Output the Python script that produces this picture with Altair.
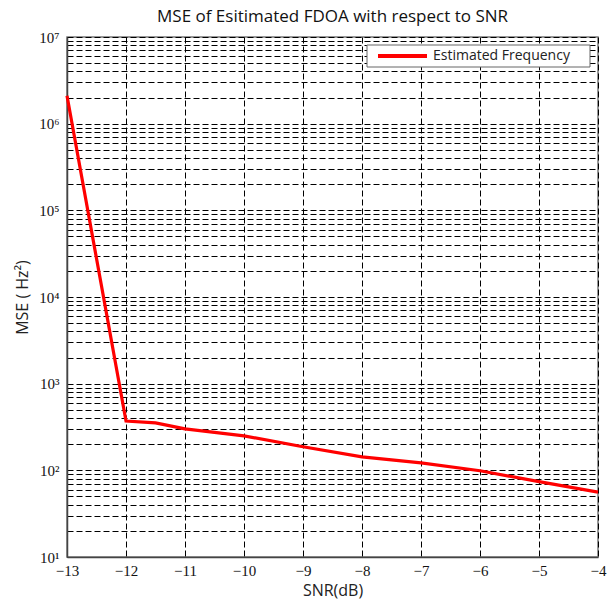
import altair as alt
import pandas as pd

snr = [-13, -12, -11.5, -11, -10, -9, -8, -7, -6, -5, -4]
mse = [2.1e6, 370, 353, 301, 250, 187, 143, 122, 99, 74, 56]
series_name = "Estimated Frequency"

df = pd.DataFrame({"SNR": snr, "MSE": mse})
legend_df = pd.DataFrame({"label": [series_name]})

y_ticks = [m * 10 ** e for e in range(1, 7) for m in range(1, 10)] + [1e7]
x_ticks = list(range(-13, -3))

sup = "{'1':'¹','2':'²','3':'³','4':'⁴','5':'⁵','6':'⁶','7':'⁷'}"
y_label_expr = (
    "abs(log(datum.value)/LN10 - round(log(datum.value)/LN10)) < 0.001 ? "
    "'10' + " + sup + "[toString(round(log(datum.value)/LN10))] : ''"
)

line = (
    alt.Chart(df)
    .mark_line(color="#ff0000", strokeWidth=3.2)
    .encode(
        x=alt.X(
            "SNR:Q",
            scale=alt.Scale(domain=[-13, -4], nice=False, zero=False),
            axis=alt.Axis(
                values=x_ticks,
                title="SNR(dB)",
                labelExpr="replace(toString(datum.value), '-', '−')",
                labelFlush=False,
                grid=True,
                gridColor="#000",
                gridDash=[6, 3],
                gridWidth=1,
                tickSize=0,
                labelFont="Liberation Serif",
                labelFontSize=15,
                labelColor="#111",
                labelPadding=6,
                titleFont="Open Sans",
                titleFontSize=16,
                titleFontWeight="normal",
                titleColor="#222",
                titlePadding=4,
                domainColor="#444",
                domainWidth=1.5,
            ),
        ),
        y=alt.Y(
            "MSE:Q",
            scale=alt.Scale(type="log", domain=[10, 1e7], nice=False),
            axis=alt.Axis(
                values=y_ticks,
                title="MSE  ( Hz²)",
                labelExpr=y_label_expr,
                labelFlush=False,
                grid=True,
                gridColor="#000",
                gridDash=[6, 3],
                gridWidth=1,
                tickSize=0,
                labelFont="Liberation Serif",
                labelFontSize=15,
                labelColor="#111",
                labelPadding=8,
                labelOverlap=False,
                titleFont="Open Sans",
                titleFontSize=16,
                titleFontWeight="normal",
                titleColor="#222",
                titlePadding=8,
                domainColor="#444",
                domainWidth=1.5,
            ),
        ),
    )
)

legend_box = alt.Chart(legend_df).mark_rect(
    fill="white", stroke="#666", strokeWidth=1
).encode(x=alt.value(300), x2=alt.value(523), y=alt.value(8), y2=alt.value(30))

legend_line = alt.Chart(legend_df).mark_rule(
    color="#ff0000", strokeWidth=4
).encode(x=alt.value(311), x2=alt.value(360), y=alt.value(19))

legend_text = alt.Chart(legend_df).mark_text(
    align="left", baseline="middle", font="Open Sans", fontSize=14, color="#222"
).encode(x=alt.value(366), y=alt.value(19), text="label:N")

chart = (
    alt.layer(line, legend_box, legend_line, legend_text)
    .properties(
        width=531,
        height=520,
        title=alt.TitleParams(
            "MSE of Esitimated FDOA with respect to SNR",
            font="Open Sans",
            fontSize=17,
            fontWeight="normal",
            color="#111",
            offset=4,
        ),
        autosize=alt.AutoSizeParams(type="none"),
        padding={"left": 67, "top": 37, "right": 11, "bottom": 46},
    )
    .configure_view(stroke="#777", strokeWidth=1.5)
)

chart.save("out.html", embed_options={"renderer": "svg", "actions": False})
